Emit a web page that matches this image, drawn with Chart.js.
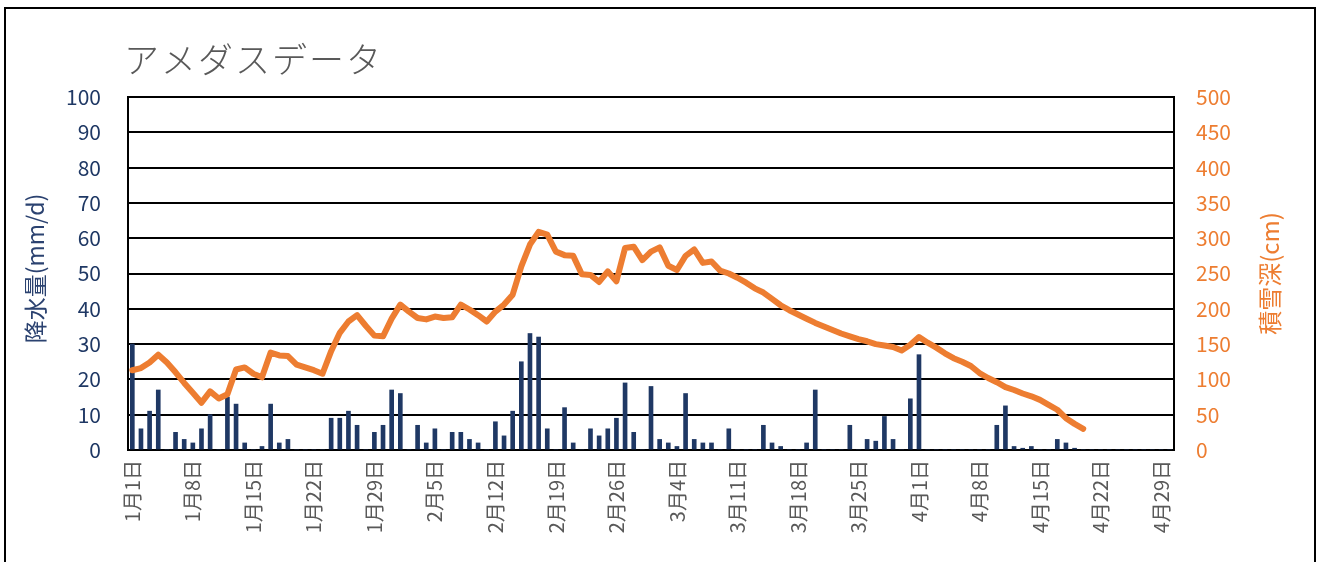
<!DOCTYPE html>
<html>
<head>
<meta charset="utf-8">
<script src="https://cdn.jsdelivr.net/npm/chart.js@4/dist/chart.umd.min.js"></script>
<style>
  html, body { margin: 0; padding: 0; background: #fff; }
  #wrap { width: 1319px; height: 562px; position: relative; }
</style>
</head>
<body>
<div id="wrap"><canvas id="c" width="1319" height="562"></canvas></div>
<script>
// ---- data ----
const monthLengths = [[1, 31], [2, 29], [3, 31], [4, 30]];
const dayLabels = [];
monthLengths.forEach(([m, n]) => { for (let d = 1; d <= n; d++) dayLabels.push(m + '月' + d + '日'); });

// daily precipitation (mm/d), Jan 1 .. Apr 30
const precipitation = [
  30, 6, 11, 17, 0, 5, 3, 2, 6, 10,
  0, 15, 13, 2, 0, 1, 13, 2, 3, 0,
  0, 0, 0, 9, 9, 11, 7, 0, 5, 7,
  17, 16, 0, 7, 2, 6, 0, 5, 5, 3,
  2, 0, 8, 4, 11, 25, 33, 32, 6, 0,
  12, 2, 0, 6, 4, 6, 9, 19, 5, 0,
  18, 3, 2, 1, 16, 3, 2, 2, 0, 6,
  0, 0, 0, 7, 2, 1, 0, 0, 2, 17,
  0, 0, 0, 7, 0, 3, 2.5, 9.5, 3, 0,
  14.5, 27, 0, 0, 0, 0, 0, 0, 0, 0,
  7, 12.5, 1, 0.5, 1, 0, 0, 3, 2, 0.5,
  0, 0, 0, 0, 0, 0, 0, 0, 0, 0, 0
];

// snow depth (cm), Jan 1 .. Apr 20
const snowDepth = [
  113, 116, 124, 135, 124, 110, 95, 81, 67, 83,
  73, 79, 114, 117, 108, 103, 138, 134, 133, 121,
  117, 113, 108, 140, 166, 182, 191, 176, 162, 161,
  186, 206, 196, 187, 185, 189, 187, 188, 206, 199,
  191, 182, 196, 206, 220, 260, 291, 309, 305, 281,
  276, 275, 249, 248, 238, 253, 239, 286, 288, 269,
  281, 287, 261, 255, 275, 284, 265, 267, 254, 250,
  244, 237, 229, 223, 214, 205, 198, 192, 186, 180,
  175, 170, 165, 161, 157, 154, 150, 148, 146, 141,
  149, 160, 152, 145, 137, 130, 125, 119, 109, 102,
  96, 89, 85, 80, 76, 71, 64, 57, 45, 37, 30
];

const precipTicks = [0, 10, 20, 30, 40, 50, 60, 70, 80, 90, 100];
const snowTicks = [0, 50, 100, 150, 200, 250, 300, 350, 400, 450, 500];

const chartTitle = 'アメダスデータ';
const leftTitle = '降水量(mm/d)';
const rightTitle = '積雪深(cm)';

// ---- styles ----
const NAVY = '#1F3864';
const ORANGE = '#ED7D31';
const GREY = '#595959';
const FONT = '"Noto Sans CJK JP", "Noto Sans", sans-serif';

const decor = {
  id: 'decor',
  afterDraw(chart) {
    const ctx = chart.ctx;
    const area = chart.chartArea;
    const midY = (area.top + area.bottom) / 2;
    ctx.save();
    // frame
    ctx.strokeStyle = '#000';
    ctx.lineWidth = 2;
    ctx.strokeRect(5, 8, 1310, 620);
    // title
    ctx.fillStyle = GREY;
    ctx.font = '300 35px ' + FONT;
    ctx.textAlign = 'left';
    ctx.textBaseline = 'alphabetic';
    try { ctx.letterSpacing = '2px'; } catch (e) {}
    ctx.fillText(chartTitle, 124, 73);
    try { ctx.letterSpacing = '0px'; } catch (e) {}
    // left axis title
    ctx.save();
    ctx.translate(35, midY - 5);
    ctx.rotate(-Math.PI / 2);
    ctx.textAlign = 'center';
    ctx.textBaseline = 'middle';
    ctx.fillStyle = '#2B4270';
    ctx.font = '23px ' + FONT;
    ctx.fillText(leftTitle, 0, 0);
    ctx.restore();
    // right axis title
    ctx.save();
    ctx.translate(1270, midY);
    ctx.rotate(-Math.PI / 2);
    ctx.textAlign = 'center';
    ctx.textBaseline = 'middle';
    ctx.fillStyle = ORANGE;
    ctx.font = '24px ' + FONT;
    ctx.fillText(rightTitle, 0, 0);
    ctx.restore();
    ctx.restore();
  }
};

new Chart(document.getElementById('c'), {
  data: {
    labels: dayLabels,
    datasets: [
      {
        type: 'line',
        label: '積雪深',
        data: snowDepth,
        yAxisID: 'y2',
        borderColor: ORANGE,
        backgroundColor: ORANGE,
        borderWidth: 6,
        pointRadius: 0,
        tension: 0,
        borderCapStyle: 'round',
        borderJoinStyle: 'round',
        order: 0
      },
      {
        type: 'bar',
        label: '降水量',
        data: precipitation,
        yAxisID: 'y',
        backgroundColor: NAVY,
        barThickness: 4,
        order: 1
      }
    ]
  },
  options: {
    responsive: false,
    animation: false,
    events: [],
    layout: { padding: { top: 97, left: 0, right: 0, bottom: 0 } },
    plugins: { legend: { display: false }, tooltip: { enabled: false }, title: { display: false } },
    scales: {
      x: {
        type: 'category',
        offset: true,
        grid: { display: false, drawTicks: false },
        border: { display: true, color: '#000', width: 2 },
        ticks: {
          autoSkip: false,
          minRotation: 90,
          maxRotation: 90,
          padding: 10,
          color: GREY,
          font: { family: FONT, size: 20 },
          callback: function (v, i) { return i % 7 === 0 ? dayLabels[i] : null; }
        },
        afterFit(scale) { scale.height = 112; }
      },
      y: {
        position: 'left',
        min: 0,
        max: 100,
        afterBuildTicks(scale) { scale.ticks = precipTicks.map(v => ({ value: v })); },
        grid: { color: '#000', lineWidth: 2, drawTicks: false },
        border: { display: true, color: '#000', width: 2 },
        ticks: { color: NAVY, padding: 27, font: { family: FONT, size: 21 } },
        afterFit(scale) { scale.width = 128; }
      },
      y2: {
        position: 'right',
        min: 0,
        max: 500,
        afterBuildTicks(scale) { scale.ticks = snowTicks.map(v => ({ value: v })); },
        grid: { display: false, drawTicks: false },
        border: { display: true, color: '#000', width: 2 },
        ticks: { color: ORANGE, padding: 22, font: { family: FONT, size: 21 } },
        afterFit(scale) { scale.width = 145; }
      }
    }
  },
  plugins: [decor]
});
</script>
</body>
</html>
